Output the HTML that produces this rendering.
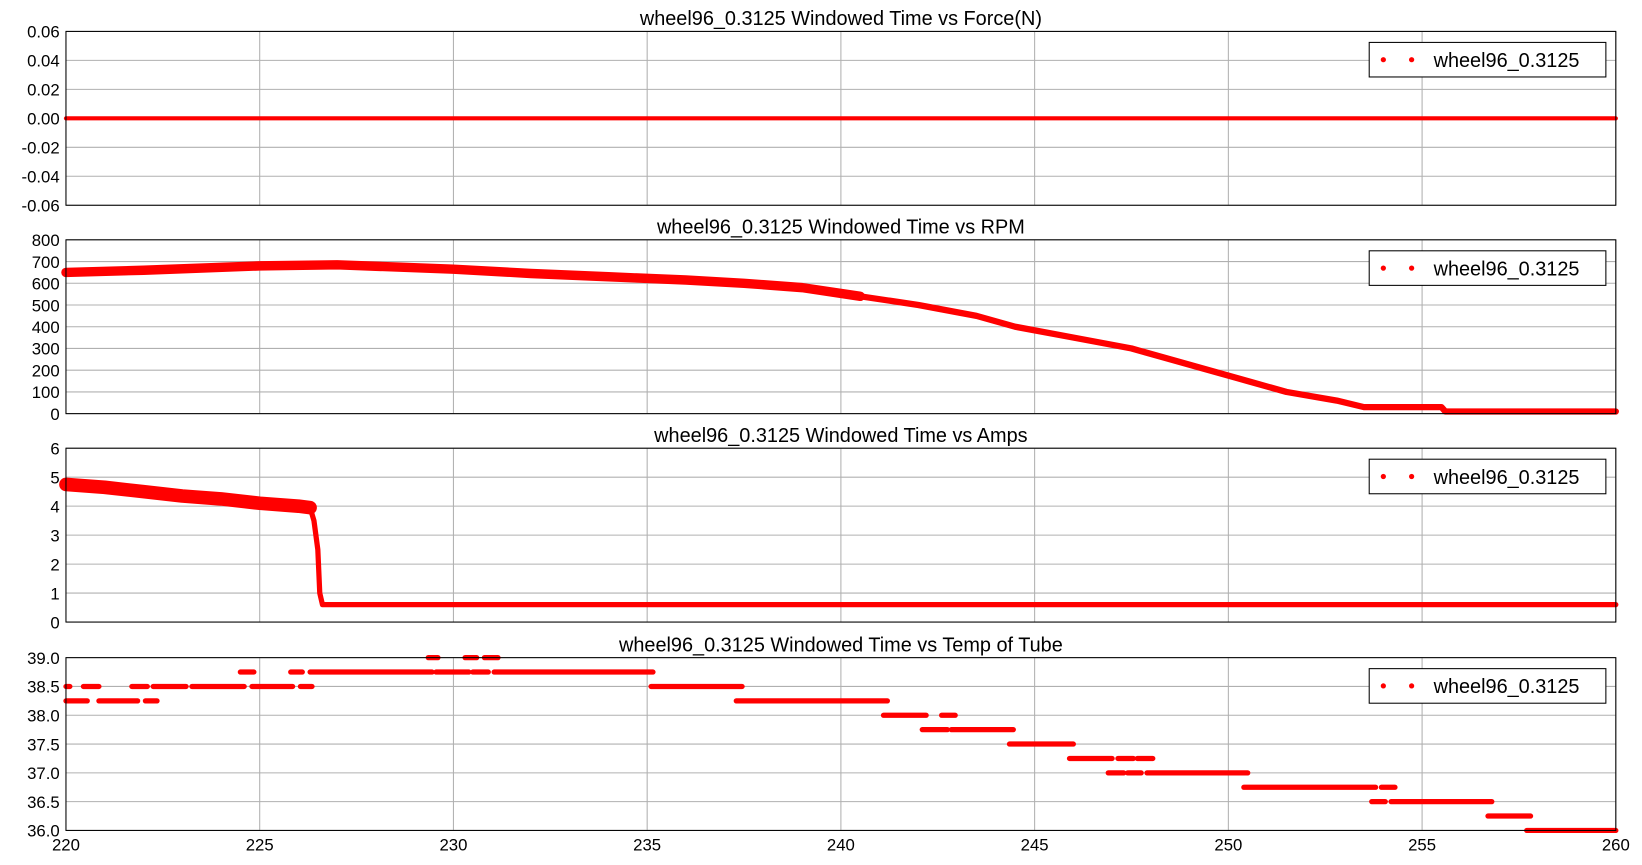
<!DOCTYPE html>
<html><head><meta charset="utf-8"><style>
body{margin:0;background:#fff;}
svg{display:block;font-family:"Liberation Sans","DejaVu Sans",sans-serif;}
</style></head><body>
<svg id="fig" width="1642" height="865" viewBox="0 0 1568 826" preserveAspectRatio="none" xmlns="http://www.w3.org/2000/svg"></svg>
<script>
const xTicks=[220,225,230,235,240,245,250,255,260];
const forceTicks=[0.06,0.04,0.02,0.00,-0.02,-0.04,-0.06];
const rpmTicks=[800,700,600,500,400,300,200,100,0];
const ampTicks=[6,5,4,3,2,1,0];
const tempTicks=[39.0,38.5,38.0,37.5,37.0,36.5,36.0];
const forceT=[220,260];
const forceV=[0,0];
const rpmT=[220,222,225,227,230,232,234,236,237.5,239,240.5,242,243.5,244.5,246,247.5,248.5,249.5,250.5,251.5,252.8,253.5,255.5,255.6,260];
const rpmV=[650,660,680,685,665,645,630,615,600,580,540,500,450,400,350,300,250,200,150,100,60,30,30,10,10];
const ampT=[220,221,222,223,224,225,226,226.3,226.4,226.5,226.55,226.62,260];
const ampV=[4.75,4.65,4.5,4.35,4.25,4.1,4.0,3.95,3.5,2.5,1.0,0.6,0.6];
const tempStart=[220,220,220.45,220.85,221.7,222.05,222.25,223.25,224.5,224.8,225.8,226.05,226.3,229.35,229.55,230.3,230.5,230.8,231.05,235.1,237.3,241.1,242.1,242.6,242.85,244.35,245.9,246.9,247.15,247.4,247.65,247.9,250.4,253.7,253.95,254.2,256.7,257.7];
const tempEnd=[220.1,220.55,220.85,221.85,222.1,222.35,223.1,224.6,224.85,225.85,226.1,226.35,229.45,229.6,230.4,230.6,230.9,231.15,235.15,237.45,241.2,242.2,242.75,242.95,244.45,246.0,247.0,247.3,247.55,247.75,248.05,250.5,253.8,254.05,254.3,256.8,257.8,260];
const tempV=[38.5,38.25,38.5,38.25,38.5,38.25,38.5,38.5,38.75,38.5,38.75,38.5,38.75,39.0,38.75,39.0,38.75,39.0,38.75,38.5,38.25,38.0,37.75,38.0,37.75,37.5,37.25,37.0,37.25,37.0,37.25,37.0,36.75,36.5,36.75,36.5,36.25,36.0];

const NS="http://www.w3.org/2000/svg";
const svg=document.getElementById('fig');
const X0=63,X1=1543;
function xs(t){return X0+(t-220)/40*(X1-X0);}
function mk(tag,attrs,parent){const e=document.createElementNS(NS,tag);for(const k in attrs)e.setAttribute(k,attrs[k]);(parent||svg).appendChild(e);return e;}
const panels=[
 {name:'force',title:'wheel96_0.3125 Windowed Time vs Force(N)',top:30,bot:196,min:-0.06,max:0.06,ticks:forceTicks,fmt:v=>v.toFixed(2)},
 {name:'rpm',title:'wheel96_0.3125 Windowed Time vs RPM',top:229,bot:395,min:0,max:800,ticks:rpmTicks,fmt:v=>String(v)},
 {name:'amps',title:'wheel96_0.3125 Windowed Time vs Amps',top:428,bot:594,min:0,max:6,ticks:ampTicks,fmt:v=>String(v)},
 {name:'temp',title:'wheel96_0.3125 Windowed Time vs Temp of Tube',top:628,bot:793,min:36,max:39,ticks:tempTicks,fmt:v=>v.toFixed(1)}
];
panels.forEach((p,i)=>{
 const g=mk('g',{});
 
 
 const ys=v=>p.bot-(v-p.min)/(p.max-p.min)*(p.bot-p.top);
 p.ys=ys;p.g=g;
 mk('rect',{x:X0,y:p.top,width:X1-X0,height:p.bot-p.top,fill:'#fff'},g);
 xTicks.forEach(t=>{const l=mk('line',{x1:xs(t),x2:xs(t),y1:p.top,y2:p.bot,stroke:'#b0b0b0','stroke-width':1},g);
  });
 p.ticks.forEach(v=>{const y=ys(v);
  const l=mk('line',{x1:X0,x2:X1,y1:y,y2:y,stroke:'#b0b0b0','stroke-width':1},g);
  
  const tx=mk('text',{x:X0-6,y:y+6,'text-anchor':'end','font-size':16,fill:'#000'},g);
  tx.textContent=p.fmt(v);
  });
 const tt=mk('text',{x:803,y:p.top-6,'text-anchor':'middle','font-size':19,fill:'#000'},g);
 tt.textContent=p.title;
 
});
function poly(p,T,V,w,name){
 const pts=T.map((t,i)=>xs(t)+','+p.ys(V[i])).join(' ');
 const l=mk('polyline',{points:pts,fill:'none',stroke:'#ff0000','stroke-width':w,'stroke-linejoin':'round','stroke-linecap':'round'},p.g);
 
}
poly(panels[0],forceT,forceV,4,'force-series');
const rpmSplit=rpmT.findIndex(t=>t>=240.5);
poly(panels[1],rpmT.slice(0,rpmSplit+1),rpmV.slice(0,rpmSplit+1),9,'rpm-series-early');
poly(panels[1],rpmT.slice(rpmSplit),rpmV.slice(rpmSplit),6,'rpm-series-late');
const ampSplit=ampT.findIndex(t=>t>=226.3);
poly(panels[2],ampT.slice(0,ampSplit+1),ampV.slice(0,ampSplit+1),13,'amps-series-early');
poly(panels[2],ampT.slice(ampSplit),ampV.slice(ampSplit),5,'amps-series-late');
tempV.forEach((v,i)=>{
 const p=panels[3];
 const l=mk('line',{x1:xs(tempStart[i]),x2:xs(tempEnd[i]),y1:p.ys(v),y2:p.ys(v),stroke:'#ff0000','stroke-width':5,'stroke-linecap':'round'},p.g);
 
});
panels.forEach(p=>{
 const fr=mk('rect',{x:X0,y:p.top,width:X1-X0,height:p.bot-p.top,fill:'none',stroke:'#000','stroke-width':1},p.g);
 
 const lg=mk('g',{},p.g);
 
 mk('rect',{x:1307.5,y:p.top+10.5,width:226,height:33,fill:'#fff',stroke:'#000','stroke-width':1},lg);
 mk('circle',{cx:1321,cy:p.top+27,r:2.5,fill:'#ff0000'},lg);
 mk('circle',{cx:1348,cy:p.top+27,r:2.5,fill:'#ff0000'},lg);
 const t=mk('text',{x:1369,y:p.top+34,'font-size':19,fill:'#000'},lg);
 t.textContent='wheel96_0.3125';
 
});
xTicks.forEach(t=>{
 const tx=mk('text',{x:xs(t),y:812,'text-anchor':'middle','font-size':16,fill:'#000'});
 tx.textContent=String(t);
 
});
</script>
</body></html>
